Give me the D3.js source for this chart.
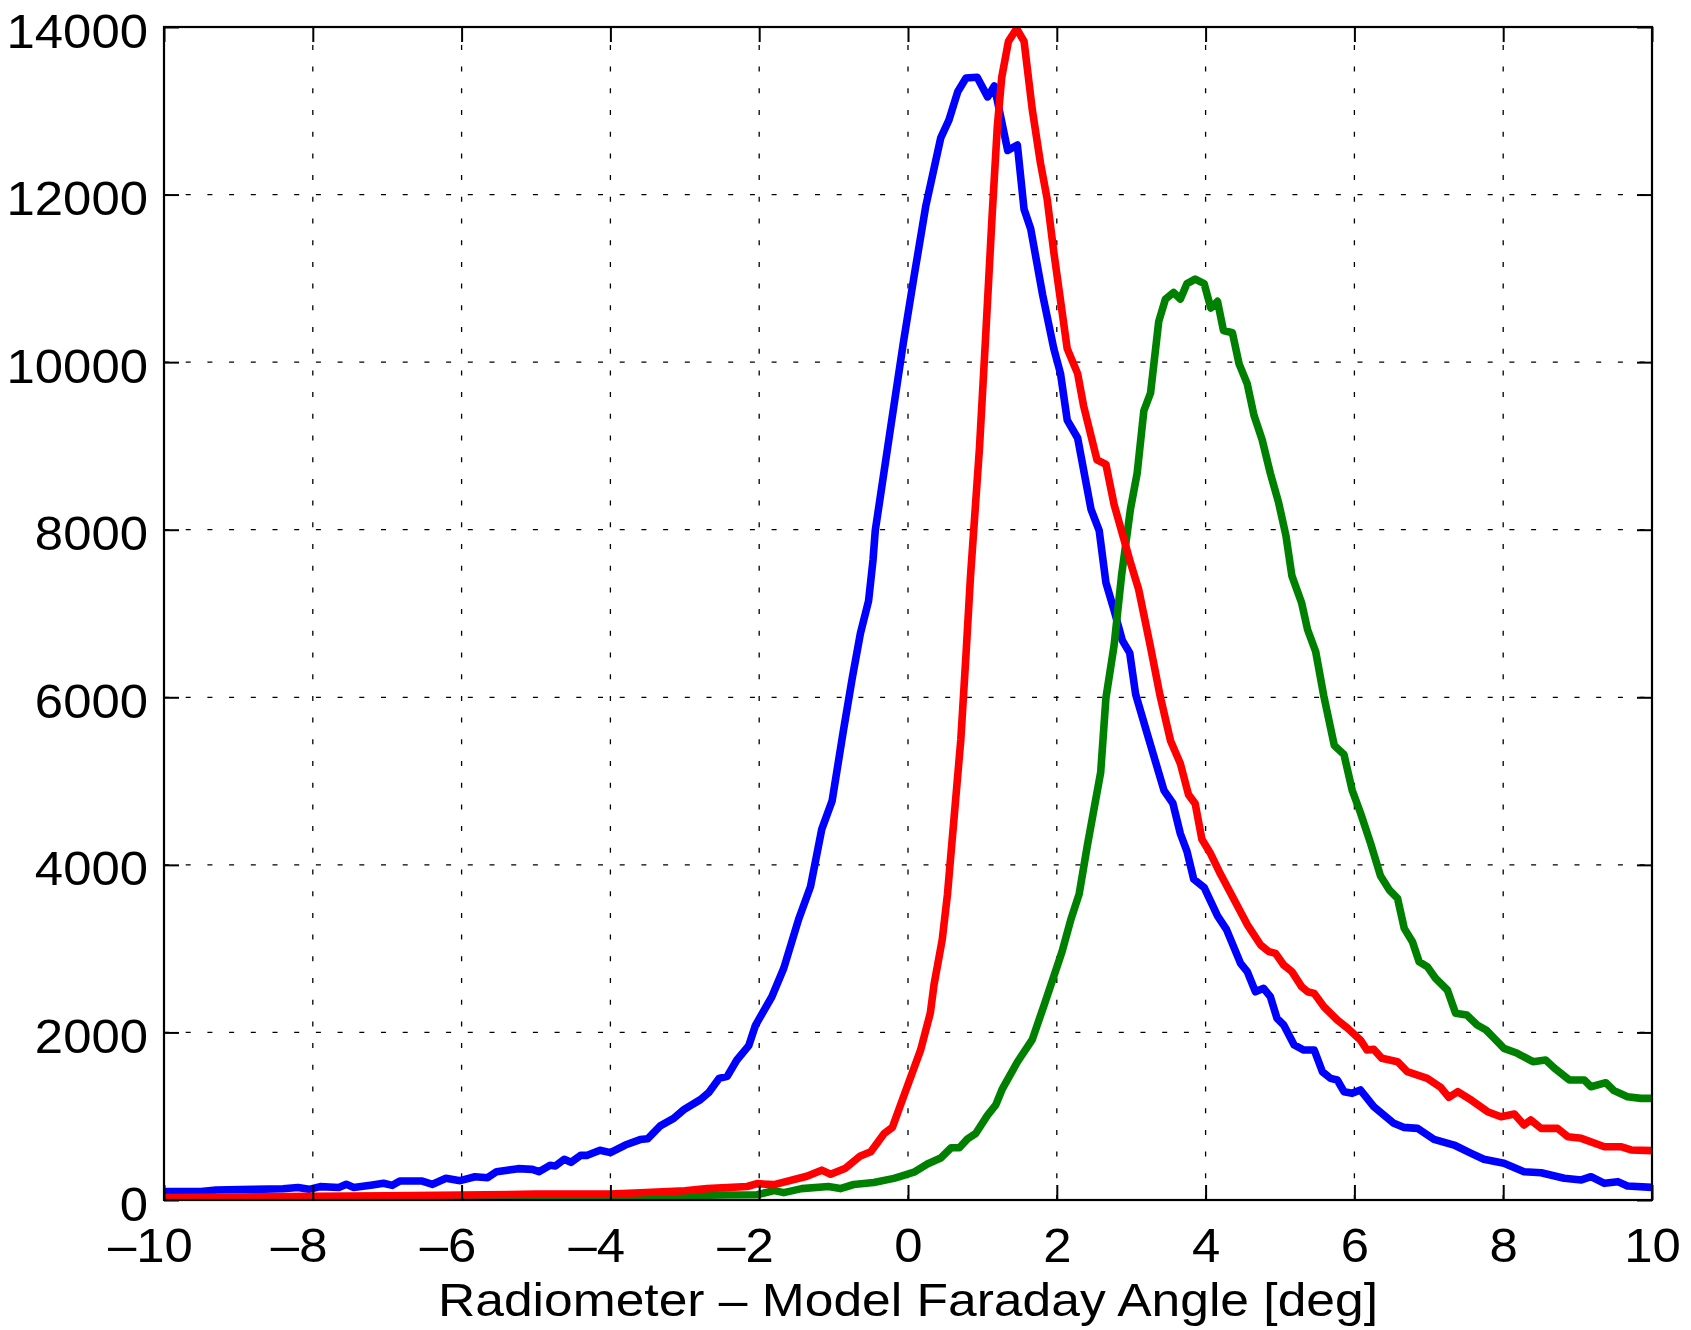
<!DOCTYPE html>
<html>
<head>
<meta charset="utf-8">
<script src="https://cdn.jsdelivr.net/npm/d3@7"></script>
<style>
  html, body { margin: 0; padding: 0; background: #fff; }
  svg { display: block; }
  text { font-family: "Liberation Sans", Arial, Helvetica, sans-serif; fill: #000; }
</style>
</head>
<body>
<svg id="chart" width="1691" height="1330"></svg>
<script>
// Histogram counts of (radiometer - model) Faraday angle, three data sets.
// Each series: [angle in deg, count]
const blueSeries = [
  [-10,100],[-9.5,100],[-9.3,120],[-8.8,127],[-8.4,135],[-8.2,150],[-8.05,127],[-7.9,160],
  [-7.65,150],[-7.55,187],[-7.45,150],[-7.2,180],[-7.05,200],[-6.93,175],[-6.83,227],[-6.54,227],
  [-6.39,187],[-6.21,259],[-6.02,231],[-5.82,278],[-5.65,266],[-5.53,338],[-5.24,374],[-5.05,366],
  [-4.96,338],[-4.81,414],[-4.74,406],[-4.62,486],[-4.53,450],[-4.4,533],[-4.31,533],[-4.14,593],
  [-4,565],[-3.8,656],[-3.6,721],[-3.5,730],[-3.33,885],[-3.15,974],[-3.01,1080],[-2.79,1198],
  [-2.68,1281],[-2.54,1451],[-2.43,1476],[-2.3,1671],[-2.14,1842],[-2.05,2085],[-1.83,2426],
  [-1.67,2766],[-1.47,3351],[-1.31,3742],[-1.16,4423],[-1.02,4764],[-0.87,5593],[-0.75,6225],
  [-0.64,6761],[-0.53,7151],[-0.47,7640],[-0.44,7990],[-0.24,9181],[-0.06,10247],[0.08,11016],
  [0.24,11867],[0.44,12676],[0.55,12889],[0.67,13231],[0.78,13392],[0.93,13401],[1.07,13166],
  [1.16,13295],[1.34,12527],[1.47,12591],[1.56,11824],[1.65,11588],[1.81,10801],[1.96,10161],
  [2.05,9863],[2.14,9309],[2.28,9095],[2.46,8243],[2.57,7988],[2.66,7369],[2.77,7040],[2.88,6680],
  [2.98,6530],[3.06,6034],[3.19,5641],[3.44,4890],[3.56,4735],[3.66,4374],[3.75,4160],[3.84,3830],
  [3.98,3730],[4.16,3390],[4.28,3230],[4.47,2824],[4.56,2725],[4.67,2486],[4.78,2526],[4.87,2426],
  [4.96,2168],[5.05,2089],[5.19,1850],[5.32,1790],[5.46,1790],[5.57,1531],[5.68,1452],[5.77,1432],
  [5.86,1293],[5.97,1273],[6.08,1313],[6.26,1114],[6.53,915],[6.66,867],[6.85,855],[7.07,724],
  [7.34,656],[7.57,557],[7.74,486],[8.01,438],[8.28,338],[8.51,326],[8.82,259],[9.05,239],
  [9.18,278],[9.36,199],[9.54,219],[9.67,167],[10,151]
];

const greenSeries = [
  [-10,10],[-8,15],[-6,20],[-5,25],[-4,35],[-3,50],[-2.5,60],[-2.03,63],[-1.8,112],[-1.67,88],
  [-1.43,136],[-1.07,161],[-0.91,136],[-0.73,185],[-0.46,210],[-0.19,258],[-0.1,283],[0.08,332],
  [0.26,430],[0.44,502],[0.58,623],[0.69,623],[0.8,730],[0.91,794],[1.07,1013],[1.18,1135],
  [1.27,1330],[1.47,1647],[1.67,1914],[1.83,2328],[1.96,2670],[2.07,2962],[2.19,3351],[2.3,3650],
  [2.41,4228],[2.59,5105],[2.66,5990],[2.77,6620],[2.87,7450],[2.99,8248],[3.08,8674],[3.17,9420],
  [3.26,9632],[3.37,10485],[3.46,10752],[3.57,10831],[3.66,10752],[3.75,10938],[3.86,10991],
  [3.98,10938],[4.07,10646],[4.16,10726],[4.24,10378],[4.36,10351],[4.45,9979],[4.56,9740],
  [4.65,9366],[4.76,9074],[4.87,8674],[4.98,8328],[5.08,7928],[5.16,7449],[5.29,7129],[5.37,6809],
  [5.48,6543],[5.59,6010],[5.73,5424],[5.86,5317],[5.97,4891],[6.08,4625],[6.22,4251],[6.35,3870],
  [6.47,3700],[6.58,3600],[6.67,3242],[6.78,3083],[6.87,2844],[6.98,2785],[7.09,2646],[7.25,2506],
  [7.36,2228],[7.51,2208],[7.65,2089],[7.77,2029],[7.88,1930],[8.01,1810],[8.19,1751],[8.4,1651],
  [8.57,1671],[8.69,1572],[8.89,1432],[9.09,1432],[9.18,1352],[9.38,1400],[9.49,1305],[9.67,1233],
  [9.85,1213],[10,1213]
];

const redSeries = [
  [-10,30],[-9,35],[-8,45],[-7,50],[-6,60],[-5,70],[-4,70],[-3.6,87],[-3,110],[-2.7,136],
  [-2.16,161],[-2.03,195],[-1.8,184],[-1.36,283],[-1.16,356],[-1.04,307],[-0.84,380],[-0.64,526],
  [-0.5,575],[-0.32,794],[-0.21,867],[-0.01,1354],[0.17,1792],[0.3,2232],[0.35,2572],[0.46,3108],
  [0.53,3644],[0.62,4570],[0.71,5495],[0.78,6517],[0.84,7444],[0.96,8967],[1.04,10247],
  [1.13,11739],[1.2,12804],[1.26,13401],[1.35,13828],[1.46,13980],[1.56,13828],[1.67,13017],
  [1.78,12378],[1.87,11951],[1.96,11312],[2.14,10161],[2.28,9863],[2.36,9479],[2.54,8834],
  [2.66,8780],[2.77,8300],[2.99,7608],[3.1,7288],[3.26,6596],[3.39,6010],[3.53,5478],[3.66,5211],
  [3.77,4838],[3.86,4731],[3.95,4305],[4.06,4145],[4.2,3890],[4.38,3590],[4.56,3287],[4.74,3043],
  [4.85,2964],[4.94,2944],[5.05,2805],[5.16,2725],[5.29,2546],[5.37,2486],[5.46,2466],[5.59,2307],
  [5.77,2148],[5.91,2049],[6.08,1910],[6.17,1790],[6.26,1798],[6.37,1691],[6.58,1651],[6.71,1531],
  [6.98,1452],[7.16,1345],[7.27,1225],[7.39,1293],[7.57,1193],[7.79,1054],[7.97,994],[8.15,1026],
  [8.28,895],[8.37,955],[8.51,855],[8.73,855],[8.87,756],[9.05,736],[9.36,636],[9.58,636],
  [9.72,597],[10,589]
];

const xTicks = [-10, -8, -6, -4, -2, 0, 2, 4, 6, 8, 10];
const yTicks = [0, 2000, 4000, 6000, 8000, 10000, 12000, 14000];
const xLabel = "Radiometer \u2013 Model Faraday Angle [deg]";

// ---- layout ----
const plotL = 164, plotR = 1652, plotT = 27, plotB = 1200;
const tickLen = 15;
const fontSize = 48;
const stretch = 1.06;

const svg = d3.select("#chart");
svg.append("rect").attr("width", 1691).attr("height", 1330).attr("fill", "#fff");

const x = d3.scaleLinear().domain([-10, 10]).range([plotL, plotR]);
const y = d3.scaleLinear().domain([0, 14000]).range([plotB, plotT]);

// dotted grid
const grid = svg.append("g").attr("stroke", "#000").attr("stroke-width", 1.3)
  .attr("stroke-dasharray", "5,16.7").attr("fill", "none");
grid.selectAll("line.v").data(xTicks.slice(1, -1)).join("line").attr("class", "v")
  .attr("x1", d => x(d)).attr("x2", d => x(d)).attr("y1", plotB).attr("y2", plotT);
grid.selectAll("line.h").data(yTicks.slice(1, -1)).join("line").attr("class", "h")
  .attr("x1", plotL).attr("x2", plotR).attr("y1", d => y(d)).attr("y2", d => y(d));

// curves
svg.append("clipPath").attr("id", "plotClip").append("rect")
  .attr("x", plotL).attr("y", plotT).attr("width", plotR - plotL).attr("height", plotB - plotT);

const line = d3.line().x(d => x(d[0])).y(d => y(d[1]));
const curves = svg.append("g").attr("clip-path", "url(#plotClip)");
[[blueSeries, "#0000ff"], [greenSeries, "#008000"], [redSeries, "#ff0000"]].forEach(([s, c]) => {
  curves.append("path").datum(s).attr("d", line).attr("fill", "none")
    .attr("stroke", c).attr("stroke-width", 7.6)
    .attr("stroke-linejoin", "round").attr("stroke-linecap", "butt");
});

// axes with inward ticks on all four sides
const fmt = d => d < 0 ? "\u2013" + Math.abs(d) : String(d);

const gBottom = svg.append("g").attr("transform", `translate(0,${plotB})`)
  .call(d3.axisBottom(x).tickValues(xTicks).tickSizeInner(-tickLen).tickSizeOuter(0).tickFormat(fmt));
const gTop = svg.append("g").attr("transform", `translate(0,${plotT})`)
  .call(d3.axisTop(x).tickValues(xTicks).tickSizeInner(-tickLen).tickSizeOuter(0).tickFormat(""));
const gLeft = svg.append("g").attr("transform", `translate(${plotL},0)`)
  .call(d3.axisLeft(y).tickValues(yTicks).tickSizeInner(-tickLen).tickSizeOuter(0).tickFormat(d => String(d)));
const gRight = svg.append("g").attr("transform", `translate(${plotR},0)`)
  .call(d3.axisRight(y).tickValues(yTicks).tickSizeInner(-tickLen).tickSizeOuter(0).tickFormat(""));

[gBottom, gTop, gLeft, gRight].forEach(g => {
  g.select(".domain").remove();
  g.selectAll(".tick line").attr("stroke", "#000").attr("stroke-width", 2);
  g.attr("font-family", null).attr("font-size", null);
});

gBottom.selectAll(".tick text")
  .attr("font-size", fontSize).attr("dy", null).attr("y", 61.7)
  .attr("transform", `scale(${stretch},1)`)
  .each(function(d) {
    const t = d3.select(this);
    if (d < 0) {
      // centre the digits on the tick; the dash hangs to the left
      t.attr("text-anchor", "start");
      const dashW = this.getSubStringLength(0, 1);
      const totalW = this.getComputedTextLength();
      const digitsW = totalW - dashW;
      t.attr("x", -(dashW + digitsW / 2));
    } else {
      t.attr("text-anchor", "middle").attr("x", 0);
    }
  });

gLeft.selectAll(".tick text")
  .attr("font-size", fontSize).attr("dy", null).attr("y", 20)
  .attr("x", -16 / stretch).attr("text-anchor", "end")
  .attr("transform", `scale(${stretch},1)`);

// axes box
svg.append("rect").attr("x", plotL).attr("y", plotT)
  .attr("width", plotR - plotL).attr("height", plotB - plotT)
  .attr("fill", "none").attr("stroke", "#000").attr("stroke-width", 2.2);

// axis title
svg.append("text")
  .attr("x", (plotL + plotR) / 2).attr("y", 1316)
  .attr("text-anchor", "middle").attr("font-size", 47)
  .attr("textLength", 940).attr("lengthAdjust", "spacingAndGlyphs")
  .text(xLabel);
</script>
</body>
</html>
